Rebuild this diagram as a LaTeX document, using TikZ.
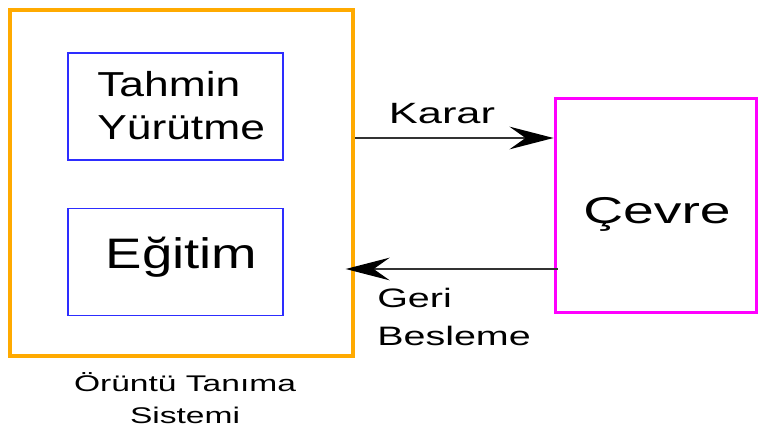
\documentclass[tikz,border=0pt]{standalone}
\usepackage{fontspec}
\setmainfont{Liberation Sans}
\newfontfamily\widefont[FakeStretch=1.48]{Liberation Sans}
\newfontfamily\egfont[FakeStretch=1.28]{Liberation Sans}
\usepackage{xcolor}
\usepackage{tikz}
\usetikzlibrary{arrows.meta}
\definecolor{sysorange}{RGB}{255,170,0}
\definecolor{modblue}{RGB}{45,45,255}
\definecolor{envmag}{RGB}{255,0,255}

\begin{document}
\begin{tikzpicture}[x=0.75pt, y=-0.75pt,
    every node/.style={inner sep=0pt, font=\widefont},
    sysbox/.style={draw=sysorange, line width=3pt, minimum width=257.25pt, minimum height=259.5pt},
    modbox/.style={draw=modblue, line width=1.2pt, minimum width=161.25pt, minimum height=80pt},
    envbox/.style={draw=envmag, line width=2.25pt, minimum width=150.75pt, minimum height=160.5pt},
    flow/.style={draw=black!80, line width=1.3pt, -{Stealth[length=33pt, width=17pt, inset=12pt, black]}}]
    \useasboundingbox (0,0) rectangle (770,435);

    % Pattern recognition system and its modules
    \node[sysbox] (sys) at (181.5,183) {};
    \node[modbox] (tahminbox) at (175.5,106.5) {};
    \node[modbox] (egitimbox) at (175.5,262) {};
    \node[anchor=north west, align=left, font=\egfont\fontsize{26}{32.5}\selectfont]
    (tahmin) at (97,71) {Tahmin\\Yürütme};
    \node[anchor=base, font=\egfont\fontsize{32}{38}\selectfont] (egitim) at (181.5,268) {Eğitim};
    \node[anchor=north, align=center, font=\widefont\fontsize{17}{24}\selectfont]
    (caption) at (185,372) {Örüntü Tanıma\\Sistemi};

    % Environment
    \node[envbox] (env) at (655.5,205) {};
    \node[anchor=base, font=\widefont\fontsize{28}{34}\selectfont] (cevre) at (657,223) {Çevre};

    % Decision and feedback
    \coordinate (dec) at (0,138);
    \coordinate (fb) at (0,269);
    \draw[flow] (sys.east |- dec) -- (env.west |- dec);
    \draw[flow, shorten <=-3pt, shorten >=-7pt] (env.west |- fb) -- (sys.east |- fb);
    \node[anchor=base, font=\widefont\fontsize{22}{26}\selectfont] (karar) at (442,123) {Karar};
    \node[anchor=north west, align=left, font=\widefont\fontsize{20}{28.5}\selectfont]
    (geri) at (377,288) {Geri\\Besleme};
  \end{tikzpicture}
\end{document}
